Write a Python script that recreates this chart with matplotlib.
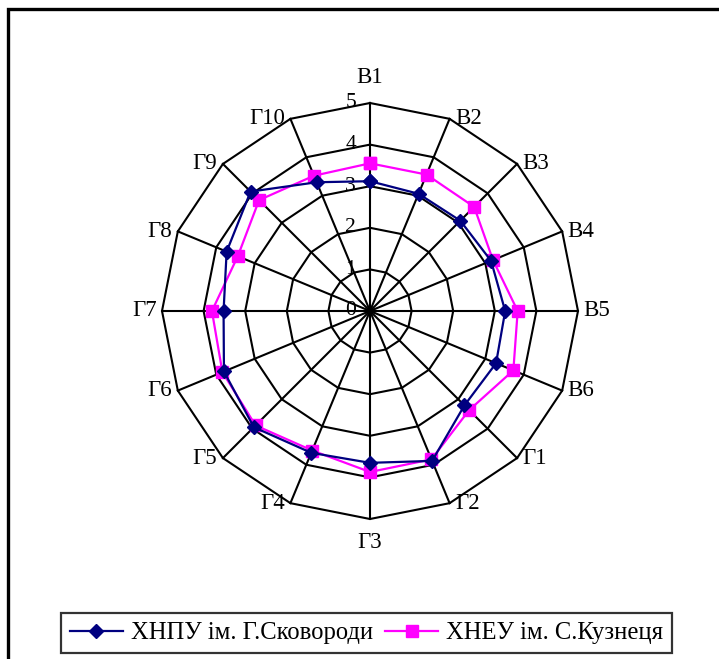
import numpy as np
import matplotlib.pyplot as plt
from matplotlib.patches import Rectangle

categories = ['В1', 'В2', 'В3', 'В4', 'В5', 'В6', 'Г1', 'Г2', 'Г3', 'Г4',
              'Г5', 'Г6', 'Г7', 'Г8', 'Г9', 'Г10']
khnpu = [3.12, 3.05, 3.07, 3.15, 3.25, 3.28, 3.21, 3.90, 3.65, 3.69,
         3.95, 3.80, 3.52, 3.73, 4.06, 3.35]
kheu = [3.55, 3.55, 3.54, 3.20, 3.55, 3.73, 3.37, 3.86, 3.87, 3.63,
        3.89, 3.84, 3.80, 3.44, 3.77, 3.52]
ticks = [0, 1, 2, 3, 4, 5]
names = ['ХНПУ ім. Г.Сковороди', 'ХНЕУ ім. С.Кузнеця']

plt.rcParams['font.family'] = ['Liberation Serif', 'DejaVu Serif']

fig = plt.figure(figsize=(7.19, 6.59), dpi=100)
ax = fig.add_axes([0, 0, 1, 1])
unit = 41.6
cx, cy = 370, 311
ax.set_xlim(-cx / unit, (719 - cx) / unit)
ax.set_ylim(-(659 - cy) / unit, cy / unit)
ax.axis('off')

n = len(categories)
ang = np.arange(n) * 2 * np.pi / n
sx, sy = np.sin(ang), np.cos(ang)
rmax = ticks[-1]

# grid polygons and spokes
for r in ticks[1:]:
    ax.plot(np.append(r * sx, r * sx[0]), np.append(r * sy, r * sy[0]),
            color='black', lw=1.5, zorder=1)
for i in range(n):
    ax.plot([0, rmax * sx[i]], [0, rmax * sy[i]], color='black', lw=1.5, zorder=1)

# radial tick labels
for t in ticks:
    ax.annotate(str(t), (0, t), xytext=(-10, 0), textcoords='offset points',
                ha='right', va='center', fontsize=15.5)

# category labels
for i, lab in enumerate(categories):
    s, c = sx[i], sy[i]
    if abs(s) < 1e-6:
        ha = 'center'
        va = 'bottom' if c > 0 else 'top'
        off = (0, 11) if c > 0 else (0, -9)
    else:
        ha = 'left' if s > 0 else 'right'
        va = 'center'
        off = (4 if s > 0 else -4, 0)
    ax.annotate(lab, (rmax * s, rmax * c), xytext=off, textcoords='offset points',
                ha=ha, va=va, fontsize=16.5)

l1, = ax.plot(np.append(np.array(khnpu) * sx, khnpu[0] * sx[0]),
              np.append(np.array(khnpu) * sy, khnpu[0] * sy[0]),
              color='#000080', lw=1.6, marker='D', markersize=7.5, zorder=3)
l2, = ax.plot(np.append(np.array(kheu) * sx, kheu[0] * sx[0]),
              np.append(np.array(kheu) * sy, kheu[0] * sy[0]),
              color='#FF00FF', lw=1.6, marker='s', markersize=8, zorder=2)

leg = fig.legend([l1, l2], names, loc='center',
                 bbox_to_anchor=((60 + 673) / 2 / 719, 1 - 633 / 659),
                 ncol=2, fontsize=17.7, frameon=True, fancybox=False,
                 handlelength=2.15, handletextpad=0.32, columnspacing=0.5,
                 borderpad=0.35, borderaxespad=0)
leg.get_frame().set_edgecolor('black')
leg.get_frame().set_linewidth(1.6)

# outer chart border (cut off at right and bottom)
fig.patches.append(Rectangle((8 / 719, -0.1), 1.2, 1 - 9 / 659 + 0.1,
                             transform=fig.transFigure, fill=False,
                             edgecolor='black', lw=2.4))

fig.savefig('out.png', dpi=100)
